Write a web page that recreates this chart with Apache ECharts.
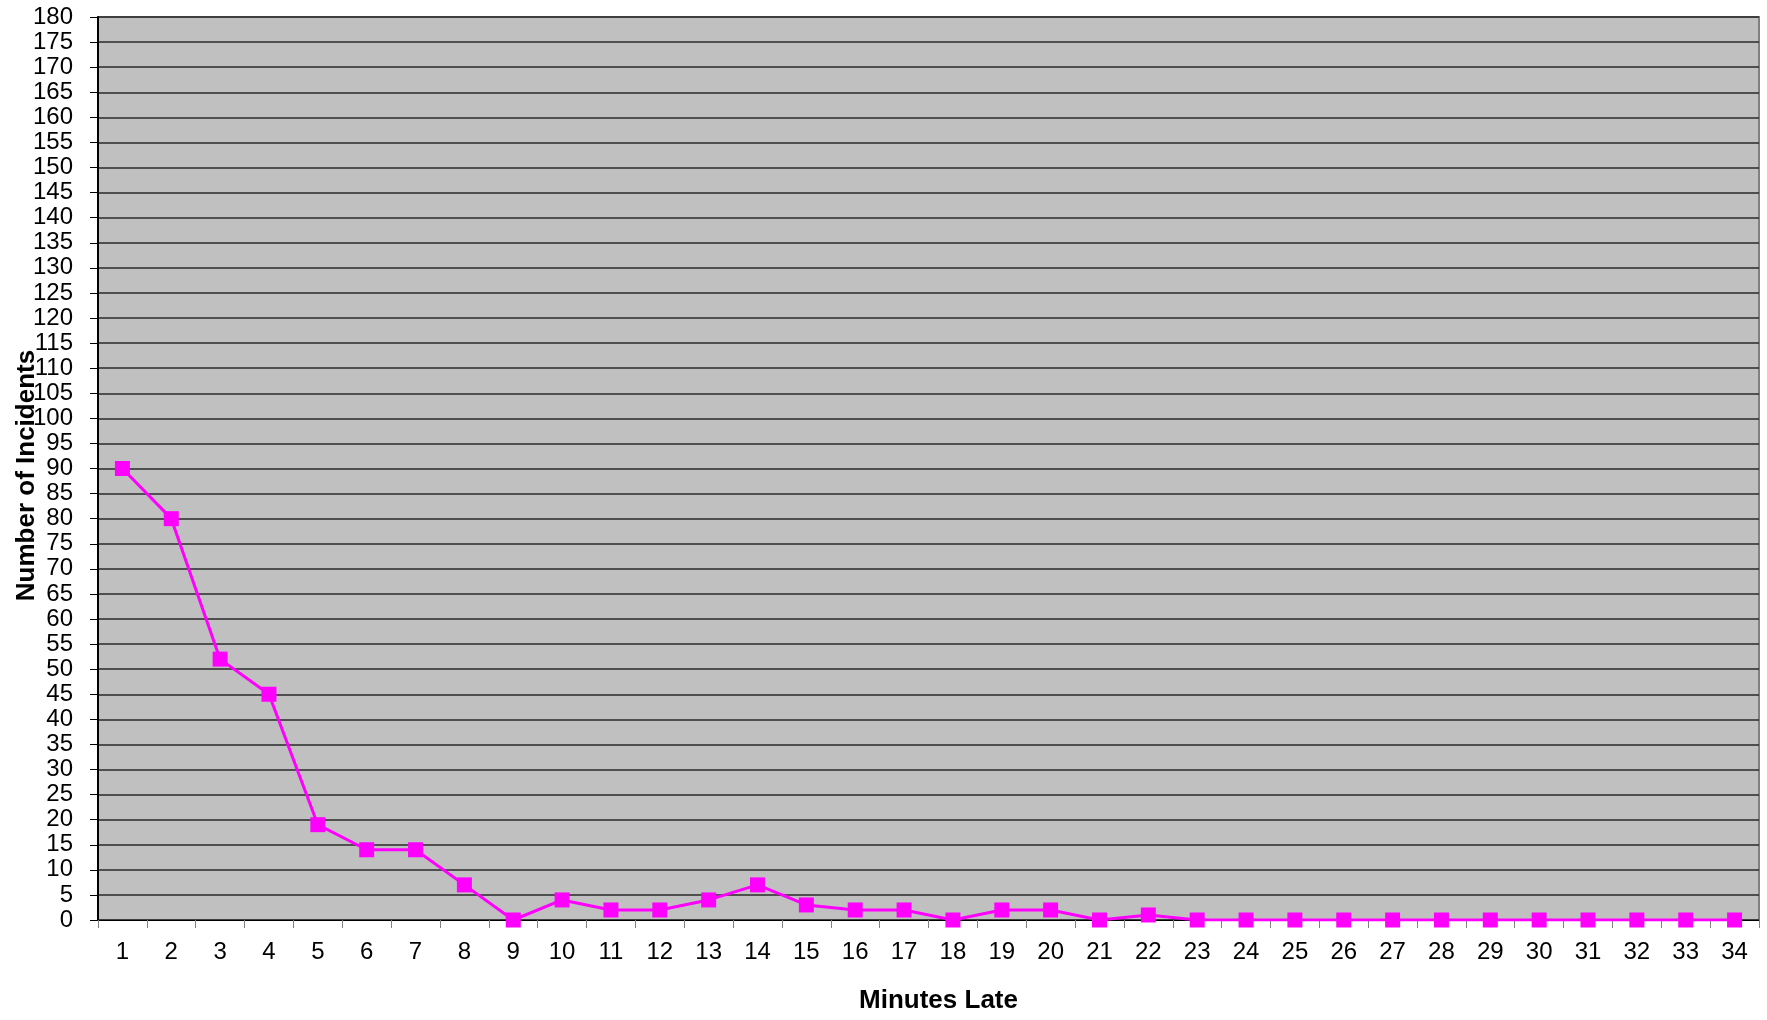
<!DOCTYPE html>
<html>
<head>
<meta charset="utf-8">
<script src="https://cdn.jsdelivr.net/npm/echarts@6/dist/echarts.min.js"></script>
<style>
  html, body { margin: 0; padding: 0; background: #fff; }
  #chart { width: 1767px; height: 1020px; }
</style>
</head>
<body>
<div id="chart"></div>
<script>
// minutes late (categories)
const minutes = ['1','2','3','4','5','6','7','8','9','10','11','12','13','14','15','16','17',
  '18','19','20','21','22','23','24','25','26','27','28','29','30','31','32','33','34']
// number of incidents per minute
const incidents = [90, 80, 52, 45, 19, 14, 14, 7, 0, 4, 2, 2, 4, 7, 3, 2, 2,
  0, 2, 2, 0, 1, 0, 0, 0, 0, 0, 0, 0, 0, 0, 0, 0, 0]

const chart = echarts.init(document.getElementById('chart'))

const font = 'Arial, "Liberation Sans", sans-serif'

chart.setOption({
  animation: false,
  grid: {
    left: 98,
    right: 8,
    top: 17,
    bottom: 100,
    outerBoundsMode: 'none',
    containLabel: false,
    show: true,
    backgroundColor: '#c0c0c0',
    borderColor: '#808080',
    borderWidth: 2
  },
  xAxis: {
    type: 'category',
    data: minutes,
    boundaryGap: true,
    name: 'Minutes Late',
    nameLocation: 'middle',
    nameGap: 68,
    nameMoveOverlap: false,
    nameTextStyle: { fontFamily: font, fontSize: 26, fontWeight: 'bold', color: '#000', padding: [0, 0, 0, 20] },
    axisLine: { lineStyle: { color: '#000', width: 1 } },
    axisTick: { show: true, alignWithLabel: false, length: 8, lineStyle: { color: '#808080' } },
    axisLabel: { fontFamily: font, fontSize: 24, color: '#000', margin: 20, interval: 0 },
    splitLine: { show: false }
  },
  yAxis: {
    type: 'value',
    min: 0,
    max: 180,
    interval: 5,
    name: 'Number of Incidents',
    nameLocation: 'middle',
    nameGap: 58,
    nameRotate: 90,
    nameMoveOverlap: false,
    nameTextStyle: { fontFamily: font, fontSize: 26, fontWeight: 'bold', color: '#000', padding: [0, 14, 0, 0] },
    axisLine: { show: true, lineStyle: { color: '#000', width: 2 } },
    axisTick: { show: true, length: 8, lineStyle: { color: '#000' } },
    axisLabel: { fontFamily: font, fontSize: 24, color: '#000', margin: 25 },
    splitLine: { show: true, lineStyle: { color: '#2a2a2a', width: 1.5 } }
  },
  series: [
    {
      type: 'line',
      data: incidents,
      symbol: 'rect',
      symbolSize: 15,
      itemStyle: { color: '#ff00ff' },
      lineStyle: { color: '#ff00ff', width: 3 }
    }
  ]
})
</script>
</body>
</html>
